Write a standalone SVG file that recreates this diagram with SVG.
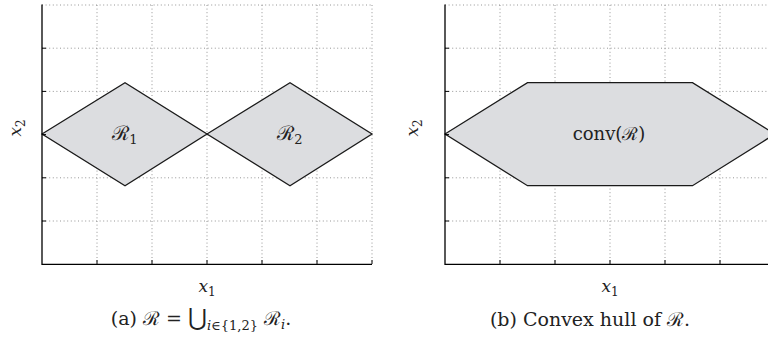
<svg xmlns="http://www.w3.org/2000/svg" width="768" height="341" viewBox="0 0 768 341">
<style>
.grid{stroke:#8a8a8a;stroke-width:0.9;stroke-dasharray:1 2.6;fill:none}
.axis{stroke:#000;stroke-width:1.3;fill:none}
.tick{stroke:#000;stroke-width:1}
.reg{fill:#dcdde0;stroke:#1a1a1a;stroke-width:1.3;stroke-linejoin:miter}
.t{font-family:"DejaVu Serif","Liberation Serif",serif;fill:#222}
.it{font-style:italic}
.sc{font-style:normal}
</style>
<rect width="768" height="341" fill="#fff"/>
<g id="plot-a">
  <g class="grid">
    <path d="M42 5H372M42 48.2H372M42 91.4H372M42 134.6H372M42 177.8H372M42 221H372"/>
    <path d="M97 5V264M152 5V264M207 5V264M262 5V264M317 5V264M372 5V264"/>
  </g>
  <polygon id="R1" class="reg" points="42,134 125,82.7 207,134 125,185.7"/>
  <polygon id="R2" class="reg" points="207,134 290,82.7 372,134 290,185.7"/>
  <path class="axis" d="M42 4.5V264.3H372"/>
  <path class="tick" d="M42 48.2h4M42 91.4h4M42 134.6h4M42 177.8h4M42 221h4M97 264v-4M152 264v-4M207 264v-4M262 264v-4M317 264v-4M372 264v-4"/>
  <text class="t" x="125" y="140" text-anchor="middle" font-size="20"><tspan class="sc">ℛ</tspan><tspan font-size="13" dy="4">1</tspan></text>
  <text class="t" x="290" y="140" text-anchor="middle" font-size="20"><tspan class="sc">ℛ</tspan><tspan font-size="13" dy="4">2</tspan></text>
  <text class="t" transform="translate(21,128) rotate(-90)" text-anchor="middle" font-size="17"><tspan class="it">x</tspan><tspan font-size="12" dy="4">2</tspan></text>
  <text class="t" x="207" y="292" text-anchor="middle" font-size="17"><tspan class="it">x</tspan><tspan font-size="12" dy="4">1</tspan></text>
  <text class="t" x="201" y="325" text-anchor="middle" font-size="19">(a) <tspan class="sc">ℛ</tspan> = <tspan class="sc" font-size="23">⋃</tspan><tspan class="it" font-size="13" dy="5">i</tspan><tspan font-size="13">∈{1,2}</tspan><tspan dy="-5"> </tspan><tspan class="sc">ℛ</tspan><tspan class="it" font-size="13" dy="4">i</tspan><tspan dy="-4">.</tspan></text>
</g>
<g id="plot-b">
  <g class="grid">
    <path d="M445 5H768M445 48.2H768M445 91.4H768M445 134.6H768M445 177.8H768M445 221H768"/>
    <path d="M500 5V264M555 5V264M610 5V264M665 5V264M720 5V264"/>
  </g>
  <polygon id="conv" class="reg" points="445,134 527.5,82.7 692.5,82.7 775,134 692.5,185.7 527.5,185.7"/>
  <path class="axis" d="M445 4.5V264.3H768"/>
  <path class="tick" d="M445 48.2h4M445 91.4h4M445 134.6h4M445 177.8h4M445 221h4M500 264v-4M555 264v-4M610 264v-4M665 264v-4M720 264v-4"/>
  <text class="t" x="609" y="140" text-anchor="middle" font-size="18">conv(<tspan class="sc">ℛ</tspan>)</text>
  <text class="t" transform="translate(418,128) rotate(-90)" text-anchor="middle" font-size="17"><tspan class="it">x</tspan><tspan font-size="12" dy="4">2</tspan></text>
  <text class="t" x="610" y="292" text-anchor="middle" font-size="17"><tspan class="it">x</tspan><tspan font-size="12" dy="4">1</tspan></text>
  <text class="t" x="590" y="326" text-anchor="middle" font-size="19">(b) Convex hull of <tspan class="sc">ℛ</tspan>.</text>
</g>
</svg>
